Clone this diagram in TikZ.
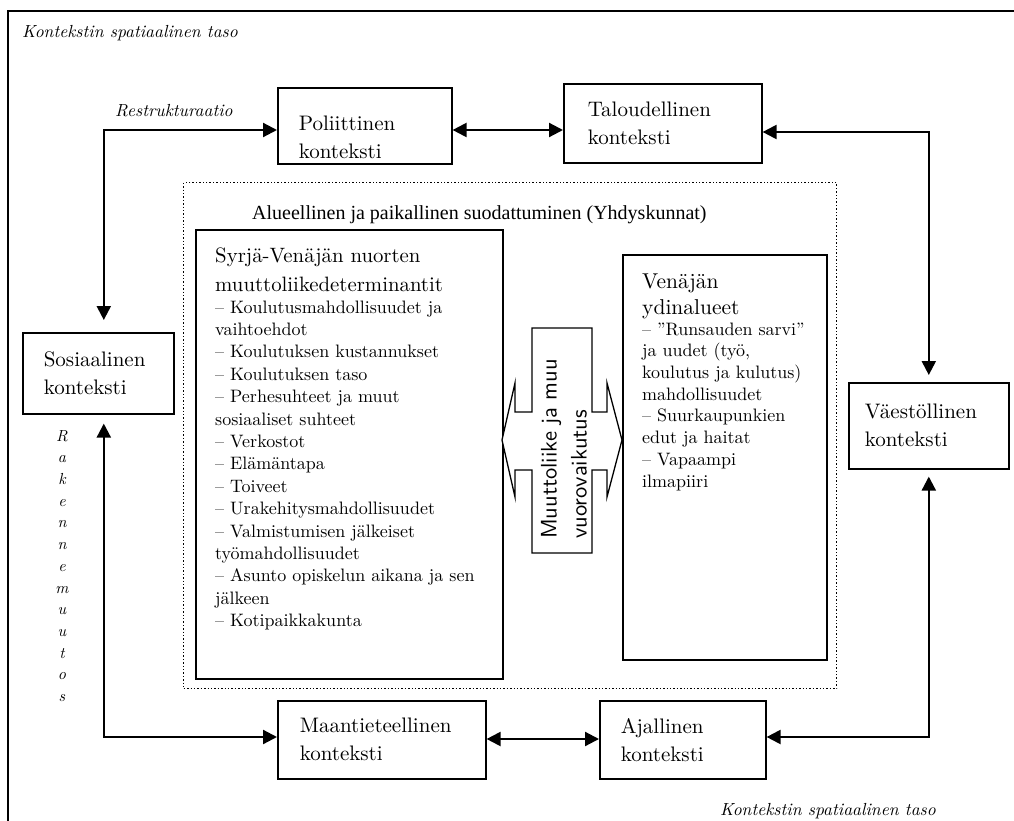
\documentclass[tikz,border=0pt]{standalone}
\usepackage{fontspec}
\setmainfont{lmroman10-regular}[Extension=.otf, ItalicFont=lmroman10-italic, BoldFont=lmroman10-bold]
\setsansfont{lmsans10-regular}[Extension=.otf]
\newfontfamily\timesfont{Liberation Serif}
\usetikzlibrary{arrows.meta}
\begin{document}
\begin{tikzpicture}[x=1pt,y=-1pt,
  ctx/.style={draw, line width=1.6pt, anchor=north west, inner ysep=0pt, align=left,
    font=\fontsize{21}{28}\selectfont},
  bigbox/.style={draw, line width=1.6pt, anchor=north west, inner sep=0pt},
  txt/.style={anchor=north west, inner sep=0pt, align=left},
  lab/.style={anchor=base west, inner sep=0pt, font=\itshape\fontsize{17.5}{21}\selectfont},
  biarr/.style={line width=2.2pt, {Triangle[length=14pt,width=14pt]}-{Triangle[length=14pt,width=14pt]}}
]
\useasboundingbox (0,0) rectangle (1014,821);
% outer frame
\draw[line width=1.6pt] (8,821) -- (8,11) -- (1014,11);
\node[lab] (lt) at (22,38) {Kontekstin spatiaalinen taso};
\node[lab] (lb) at (720,815) {Kontekstin spatiaalinen taso};
\node[lab] (rs) at (115,117) {Restrukturaatio};
\node[anchor=center, inner sep=0pt, align=center, font=\itshape\fontsize{16}{21.7}\selectfont] (rk) at (62,566)
  {R\\a\\k\\e\\n\\n\\e\\m\\u\\u\\t\\o\\s};

% context boxes
\node[ctx, inner xsep=21pt, text width=132pt, minimum height=76pt] (pol) at (277,87) {\rule{0pt}{37pt}Poliittinen\\konteksti};
\node[ctx, inner xsep=24pt, text width=150pt, minimum height=79pt] (tal) at (563,83) {Taloudellinen\\konteksti};
\node[ctx, inner xsep=21pt, text width=109pt, minimum height=81pt] (soc) at (22,332) {Sosiaalinen\\konteksti};
\node[ctx, inner xsep=16pt, text width=128pt, minimum height=86pt] (vae) at (848,382) {Väestöllinen\\konteksti};
\node[ctx, inner xsep=22pt, text width=164pt, minimum height=78pt] (maa) at (277,700) {Maantieteellinen\\konteksti};
\node[ctx, inner xsep=21pt, text width=124pt, minimum height=78pt] (aja) at (599,700) {Ajallinen\\konteksti};

% regional dotted frame
\node[draw, dotted, line width=1.4pt, anchor=north west, inner sep=0pt, minimum width=653pt, minimum height=506pt] (reg) at (183,182) {};
\node[anchor=base west, inner sep=0pt, font=\timesfont\fontsize{20}{24}\selectfont] (hd) at (252,219) {Alueellinen ja paikallinen suodattuminen (Yhdyskunnat)};

% determinants box
\node[bigbox, minimum width=307pt, minimum height=449pt] (det) at (195,229) {};
\node[txt, font=\fontsize{20.8}{29}\selectfont] (dett) at (215,247.5) {Syrjä-Venäjän nuorten\\muuttoliikedeterminantit};
\node[txt, font=\fontsize{18}{22.4}\selectfont] (detl) at (215,300.5) {– Koulutusmahdollisuudet ja\\vaihtoehdot\\– Koulutuksen kustannukset\\– Koulutuksen taso\\– Perhesuhteet ja muut\\sosiaaliset suhteet\\– Verkostot\\– Elämäntapa\\– Toiveet\\– Urakehitysmahdollisuudet\\– Valmistumisen jälkeiset\\työmahdollisuudet\\– Asunto opiskelun aikana ja sen\\jälkeen\\– Kotipaikkakunta};

% core regions box
\node[bigbox, minimum width=204pt, minimum height=405pt] (ydin) at (622,254) {};
\node[txt, font=\fontsize{21.5}{26}\selectfont] (ydt) at (642,273.3) {Venäjän\\ydinalueet};
\node[txt, font=\fontsize{18}{21.7}\selectfont] (ydl) at (642,322.5) {– ”Runsauden sarvi”\\ja uudet (työ,\\koulutus ja kulutus)\\mahdollisuudet\\– Suurkaupunkien\\edut ja haitat\\– Vapaampi\\ilmapiiri};

% central double arrow
\draw[line width=1.3pt, fill=white]
  (532,328) -- (592,328) -- (592,412) -- (607,412) -- (607,383) -- (622,440)
  -- (607,497) -- (607,470) -- (592,470) -- (592,553) -- (532,553) -- (532,470)
  -- (515,470) -- (515,497) -- (502,440) -- (515,383) -- (515,412) -- (532,412) -- cycle;
\node[rotate=90, align=left, inner sep=0pt, font=\sffamily\fontsize{22.5}{30}\selectfont] (mv) at (564,449) {Muuttoliike ja muu\\vuorovaikutus};

% connectors
\draw[biarr, shorten <=12pt] ([xshift=5.5pt]soc.north) |- (pol.west |- 0,130);
\draw[biarr] (pol.east |- 0,130) -- (tal.west |- 0,130);
\draw[biarr, shorten >=7pt] (tal.east |- 0,132) -| (vae.north);
\draw[biarr, shorten <=7pt] (vae.south) |- (aja.east |- 0,737);
\draw[biarr] (maa.east |- 0,739) -- (aja.west |- 0,739);
\draw[biarr, shorten <=9pt] ([xshift=5.5pt]soc.south) |- (maa.west |- 0,737);
\end{tikzpicture}
\end{document}
